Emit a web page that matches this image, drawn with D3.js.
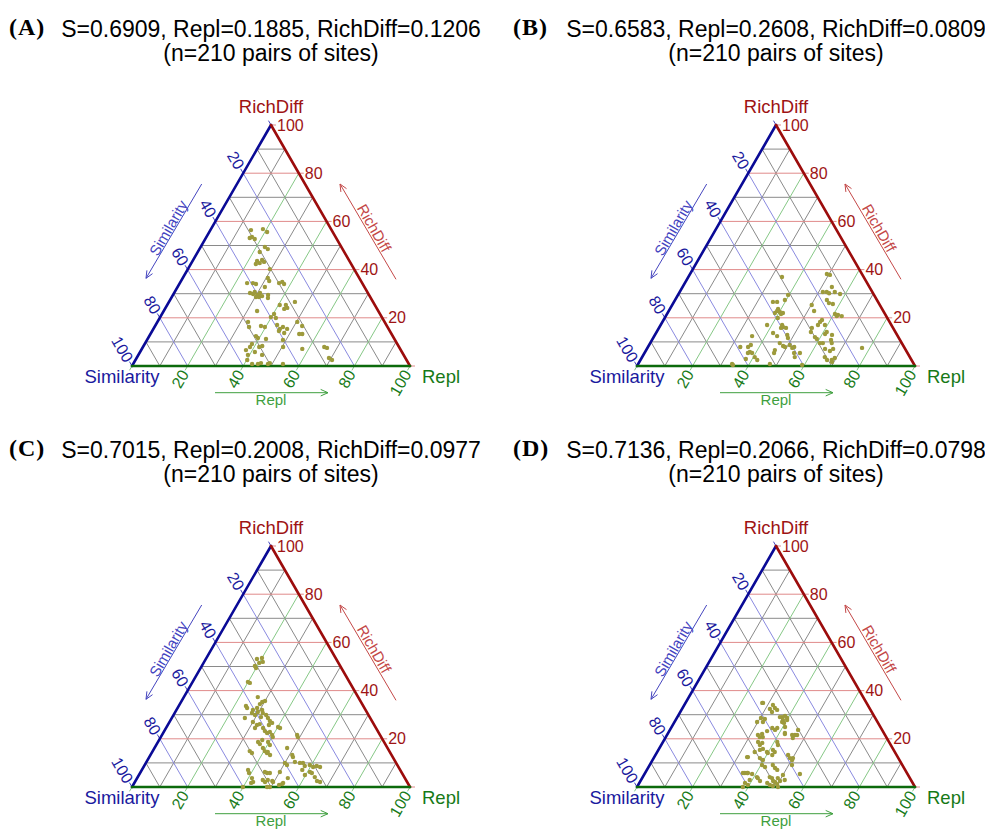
<!DOCTYPE html>
<html>
<head>
<meta charset="utf-8">
<script src="https://cdn.jsdelivr.net/npm/d3@7"></script>
<style>
  body { margin: 0; background: #fff; }
  svg { display: block; }
</style>
</head>
<body>
<svg id="chart" width="985" height="829"></svg>
<script>
// ---- Panel summaries -------------------------------------------------------
const panelLetters   = ["(A)", "(B)", "(C)", "(D)"];
const meanSimilarity = [0.6909, 0.6583, 0.7015, 0.7136];
const meanRepl       = [0.1885, 0.2608, 0.2008, 0.2066];
const meanRichDiff   = [0.1206, 0.0809, 0.0977, 0.0798];
const pairCounts     = [210, 210, 210, 210];
const tickValues     = [20, 40, 60, 80, 100];
const gridSteps      = [10, 20, 30, 40, 50, 60, 70, 80, 90];

// ---- Site pairs: Repl (%) and RichDiff (%); Similarity = 100 - Repl - RichDiff
const replA = [14.6,18.7,20.8,16.4,17.8,15.8,23.1,24.6,22.3,23.2,24.6,24.8,23.4,25.9,29.5,30.6,31.7,24.2,26.3,27.6,
  31.4,35.7,36.6,37.7,28.8,30.3,31.4,28.6,30.3,30.9,32.3,27.3,34.2,34.8,45.3,40.5,42.7,43.8,42.9,33.6,
  40.3,39.8,41.8,32.6,34.0,38.1,39.7,43.7,45.5,46.2,48.1,45.6,50.3,52.9,47.9,38.4,39.5,42.6,42.7,41.8,
  53.5,54.6,38.6,38.5,50.4,57.7,65.2,66.4,41.3,39.4,40.2,44.5,69.2,70.7,42.8,44.9,45.8,48.5,49.0,53.9,
  48.9,37.7];
const richA = [56.4,56.8,55.6,53.5,52.7,53.1,49.4,48.5,47.3,43.6,42.7,44.0,42.3,43.2,40.2,36.5,35.3,34.4,34.4,34.0,
  32.8,34.4,34.9,34.0,30.7,29.5,28.6,29.9,28.6,30.3,29.0,30.3,29.5,28.2,26.6,25.3,25.3,24.1,23.7,22.8,
  21.6,20.3,19.9,18.3,16.2,16.6,16.2,17.0,15.4,16.2,15.4,14.5,18.3,16.6,13.7,12.4,11.6,11.2,8.3,7.9,
  13.3,13.3,9.1,7.9,7.9,7.1,7.9,7.5,5.8,4.6,2.5,4.6,3.3,2.5,0.8,0.8,1.2,0.8,1.2,0.8,
  10.8,6.6];

const replB = [33.7,49.2,50.5,53.7,51.5,52.9,54.0,55.8,58.1,39.6,39.5,35.6,37.1,54.6,56.0,57.6,50.2,38.9,40.2,39.0,
  41.5,41.0,38.6,52.3,60.4,61.7,63.3,61.5,40.7,57.0,56.7,56.6,38.3,43.7,44.4,43.9,45.7,55.0,55.5,59.1,
  61.2,61.0,42.1,44.2,47.6,48.5,35.2,58.0,59.1,63.7,64.4,65.3,61.0,62.1,46.6,48.4,49.3,50.6,52.1,52.6,
  33.2,36.0,36.6,37.7,37.2,38.7,46.3,46.6,53.8,55.9,64.1,66.3,67.0,77.2,40.5,42.0,37.7,54.9,65.7,67.1,
  69.5,69.3,68.8,33.8,34.3,47.4,59.2];
const richB = [36.9,38.2,37.8,32.8,30.7,30.7,30.2,30.7,29.9,29.5,27.4,26.6,26.6,27.4,26.1,25.7,25.3,23.7,22.4,22.8,
  22.0,21.6,22.0,22.8,21.6,21.2,20.7,20.7,19.9,19.1,18.3,17.0,17.0,17.0,16.2,15.8,15.8,15.8,14.1,17.0,
  14.1,13.3,13.7,12.4,12.9,11.6,12.4,12.0,11.2,12.9,10.8,9.5,9.5,9.5,9.5,8.3,7.9,8.7,7.5,7.9,
  7.9,7.9,8.7,5.8,5.4,5.4,6.6,5.4,5.4,5.4,7.1,6.2,7.1,7.5,3.7,2.5,2.9,3.7,3.7,2.5,
  3.3,1.7,2.5,0.8,0.4,0.8,0.4];

const replC = [18.4,20.0,21.1,20.0,19.1,19.9,19.9,20.8,26.6,29.2,28.8,30.0,24.2,25.0,27.5,27.8,28.6,29.7,29.3,30.8,
  31.7,33.3,31.9,26.3,34.6,35.9,37.1,36.4,30.0,32.1,32.0,32.9,34.9,36.2,37.4,38.2,39.6,40.1,41.0,40.3,
  36.0,37.1,37.1,48.6,49.3,39.6,40.9,39.0,40.3,41.5,41.6,43.0,34.9,36.1,51.0,51.7,47.7,50.0,51.2,53.4,
  56.5,57.8,59.4,61.0,62.1,38.2,39.2,44.7,45.7,46.7,50.1,57.7,59.7,60.9,61.8,45.6,46.8,47.4,49.2,49.7,
  41.3,42.5,42.0,63.7,65.3,66.6,52.5,53.4,54.2,49.6,48.6,39.9,63.5,55.4,53.5];
const richC = [53.1,53.5,51.9,51.5,50.2,49.4,43.6,43.2,37.3,35.3,34.4,35.7,33.6,32.8,32.0,30.7,32.8,31.1,29.9,32.0,
  30.7,29.9,29.0,28.6,28.6,27.4,26.6,25.7,27.0,25.7,24.5,26.1,24.5,23.2,22.4,22.8,21.6,24.9,24.5,20.7,
  18.7,19.5,17.8,21.6,20.7,18.7,17.4,16.2,14.9,14.1,14.5,13.3,14.9,14.1,13.3,12.4,16.2,10.0,9.1,10.4,
  10.0,8.7,9.1,8.3,8.7,7.1,5.8,6.2,5.8,5.8,6.2,7.1,5.0,6.2,5.8,2.9,2.1,2.9,2.5,2.1,
  3.7,2.1,1.7,4.1,2.5,2.1,0.8,1.2,3.7,0.0,0.0,0.0,8.3,10.0,1.7];

const replD = [27.6,31.6,33.2,34.4,33.0,30.3,31.9,31.8,37.7,38.5,39.7,38.6,38.7,39.6,29.7,36.4,38.2,35.2,46.1,32.7,
  33.8,34.9,34.0,42.2,46.0,45.9,34.2,35.9,35.5,41.1,42.0,33.7,35.1,36.5,37.4,39.5,40.0,42.0,41.2,42.3,
  47.7,49.0,50.2,38.2,39.7,40.4,41.9,44.3,45.7,46.9,55.9,35.9,37.0,38.7,41.1,41.6,43.0,45.7,46.7,47.7,
  48.6,48.8,50.2,50.0,51.7,38.0,39.5,46.0,47.4,48.7,49.8,50.7,39.1,38.1,27.9,31.9,36.9,40.1,40.8,42.0,
  45.0,37.8,46.8,33.4,50.1,51.2,35.2,36.7];
const richD = [34.9,32.4,32.8,32.0,31.1,28.6,28.2,27.0,29.0,29.5,28.6,27.8,27.0,26.6,27.0,24.5,24.5,23.2,23.7,21.6,
  20.7,20.7,22.0,22.0,21.6,20.3,18.7,18.3,17.4,18.7,17.4,12.4,14.5,15.4,15.8,14.5,14.1,13.3,15.4,14.5,
  13.3,12.0,11.2,12.0,11.2,9.1,8.3,9.1,7.9,7.1,5.4,5.8,5.8,5.4,4.1,3.7,2.5,4.1,3.7,2.5,
  2.1,3.7,2.5,5.0,2.9,1.7,0.8,1.7,0.8,0.4,1.2,0.0,2.9,0.0,34.9,34.0,29.0,27.8,24.9,22.4,
  21.6,23.7,21.6,12.4,12.0,9.1,5.8,5.8];

// ---- Styling / layout ------------------------------------------------------
const SANS = "'Liberation Sans', Arial, Helvetica, sans-serif";
const SERIF = "'Liberation Serif', 'Times New Roman', serif";
const C = {
  simEdge: "#0a0a96", richEdge: "#9c0c0c", replEdge: "#0c6a0c",
  simText: "#1a1a9e", richText: "#9e1414", replText: "#177a17",
  simGrid: "#8a8ae0", richGrid: "#e08a8a", replGrid: "#86c886", grey: "#8a8a8a",
  simArrow: "#4545bf", richArrow: "#c44848", replArrow: "#3f9f3f",
  point: "#9d9a3c"
};
const TRI = { left: 132, right: 410, base: 366, top: 125 };

const panels = [
  { i: 0, repl: replA, rich: richA, dx: 0,   dy: 0,   letterX: 9 },
  { i: 1, repl: replB, rich: richB, dx: 505, dy: 0,   letterX: 8 },
  { i: 2, repl: replC, rich: richC, dx: 0,   dy: 421, letterX: 9 },
  { i: 3, repl: replD, rich: richD, dx: 505, dy: 421, letterX: 8 }
];

const svg = d3.select("#chart");
const fmt = d3.format(".4f");

function arrow(g, x1, y1, x2, y2, color) {
  g.append("line").attr("x1", x1).attr("y1", y1).attr("x2", x2).attr("y2", y2)
    .attr("stroke", color).attr("stroke-width", 1);
  const ang = Math.atan2(y2 - y1, x2 - x1), L = 8, w = 0.42;
  const p1 = [x2 - L * Math.cos(ang - w), y2 - L * Math.sin(ang - w)];
  const p2 = [x2 - L * Math.cos(ang + w), y2 - L * Math.sin(ang + w)];
  g.append("polyline").attr("points", [p1, [x2, y2], p2].map(p => p.join(",")).join(" "))
    .attr("fill", "none").attr("stroke", color).attr("stroke-width", 1);
}

panels.forEach(p => {
  const g = svg.append("g").attr("transform", `translate(${p.dx},${p.dy})`);
  // horizontal position driven by Repl + RichDiff/2, vertical by RichDiff
  const x = d3.scaleLinear().domain([0, 100]).range([TRI.left, TRI.right]);
  const y = d3.scaleLinear().domain([0, 100]).range([TRI.base, TRI.top]);
  const pos = (r, d) => [x(r + d / 2), y(d)];
  const cx = x(50);

  // titles
  g.append("text").attr("x", p.letterX).attr("y", 35)
    .style("font-family", SERIF).style("font-weight", "bold").style("font-size", "24px")
    .style("letter-spacing", "1px").text(panelLetters[p.i]);
  g.append("text").attr("x", cx).attr("y", 37).attr("text-anchor", "middle")
    .style("font-family", SANS).style("font-size", "23px")
    .text(`S=${fmt(meanSimilarity[p.i])}, Repl=${fmt(meanRepl[p.i])}, RichDiff=${fmt(meanRichDiff[p.i])}`);
  g.append("text").attr("x", cx).attr("y", 61).attr("text-anchor", "middle")
    .style("font-family", SANS).style("font-size", "23px")
    .text(`(n=${pairCounts[p.i]} pairs of sites)`);

  // grid
  const lines = [];
  gridSteps.forEach(v => {
    const major = v % 20 === 0;
    lines.push({ a: pos(0, v), b: pos(100 - v, v), c: major ? C.richGrid : C.grey, m: major });
    lines.push({ a: pos(v, 0), b: pos(0, v), c: major ? C.simGrid : C.grey, m: major });
    lines.push({ a: pos(v, 0), b: pos(v, 100 - v), c: major ? C.replGrid : C.grey, m: major });
  });
  lines.sort((a, b) => a.m - b.m);
  g.append("g").selectAll("line").data(lines).join("line")
    .attr("x1", d => d.a[0]).attr("y1", d => d.a[1])
    .attr("x2", d => d.b[0]).attr("y2", d => d.b[1])
    .attr("stroke", d => d.c).attr("stroke-width", 1);

  // tick marks
  const tk = [0].concat(tickValues), T = 5;
  const sx = -0.5, sy = -Math.sqrt(3) / 2;   // outward along Similarity lines
  const rx = -0.5, ry = Math.sqrt(3) / 2;    // outward along Repl lines
  const ticks = g.append("g");
  tk.forEach(v => {
    const pr = pos(100 - v, v);
    ticks.append("line").attr("x1", pr[0]).attr("y1", pr[1]).attr("x2", pr[0] + T).attr("y2", pr[1])
      .attr("stroke", C.richGrid);
    const ps = pos(0, 100 - v);
    ticks.append("line").attr("x1", ps[0]).attr("y1", ps[1]).attr("x2", ps[0] + T * sx).attr("y2", ps[1] + T * sy)
      .attr("stroke", C.simArrow);
    const pp = pos(v, 0);
    ticks.append("line").attr("x1", pp[0]).attr("y1", pp[1]).attr("x2", pp[0] + T * rx).attr("y2", pp[1] + T * ry)
      .attr("stroke", C.replGrid);
  });

  // edges
  const edge = (a, b, c) => g.append("line").attr("x1", a[0]).attr("y1", a[1]).attr("x2", b[0]).attr("y2", b[1])
    .attr("stroke", c).attr("stroke-width", 2.6).attr("stroke-linecap", "round");
  edge(pos(0, 0), pos(0, 100), C.simEdge);
  edge(pos(100, 0), pos(0, 100), C.richEdge);
  edge(pos(0, 0), pos(100, 0), C.replEdge);

  // points
  g.append("g").selectAll("circle").data(p.repl.map((r, k) => [r, p.rich[k]])).join("circle")
    .attr("cx", d => pos(d[0], d[1])[0]).attr("cy", d => pos(d[0], d[1])[1])
    .attr("r", 2.2).attr("fill", C.point);

  // tick labels
  const lab = g.append("g").style("font-family", SANS).style("font-size", "16px");
  tickValues.forEach(v => {
    const pr = pos(100 - v, v);
    lab.append("text").attr("x", pr[0] + 6).attr("y", pr[1]).attr("dy", "0.35em")
      .attr("fill", C.richText).text(v);
    const ps = pos(0, 100 - v), ds = 6;
    const qx = ps[0] + ds * sx, qy = ps[1] + ds * sy;
    lab.append("text").attr("transform", `translate(${qx},${qy}) rotate(60)`)
      .attr("text-anchor", "end").attr("dy", "0.35em").attr("fill", C.simText).text(v);
    const pp = pos(v, 0), dr = 6;
    const ux = pp[0] + dr * rx, uy = pp[1] + dr * ry;
    lab.append("text").attr("transform", `translate(${ux},${uy}) rotate(-60)`)
      .attr("text-anchor", "end").attr("dy", "0.35em").attr("fill", C.replText).text(v);
  });

  // vertex titles
  const vt = g.append("g").style("font-family", SANS).style("font-size", "18.5px");
  vt.append("text").attr("x", cx).attr("y", 113).attr("text-anchor", "middle").attr("fill", C.richText).text("RichDiff");
  vt.append("text").attr("x", TRI.left - 10).attr("y", 383).attr("text-anchor", "middle").attr("fill", C.simText).text("Similarity");
  vt.append("text").attr("x", TRI.right + 12).attr("y", 383).attr("fill", C.replText).text("Repl");

  // direction arrows with their labels
  const at = g.append("g").style("font-family", SANS).style("font-size", "15px");
  arrow(g, 201.7, 184, 146, 278.3, C.simArrow);
  at.append("text").attr("transform", "translate(168.5,228) rotate(-60)").attr("text-anchor", "middle")
    .attr("dy", "0.35em").attr("fill", C.simArrow).text("Similarity");
  arrow(g, 396, 279.3, 340, 184, C.richArrow);
  at.append("text").attr("transform", "translate(374,228) rotate(60)").attr("text-anchor", "middle")
    .attr("dy", "0.35em").attr("fill", C.richArrow).text("RichDiff");
  arrow(g, 215, 392.7, 328, 392.7, C.replArrow);
  at.append("text").attr("x", cx).attr("y", 405).attr("text-anchor", "middle")
    .attr("fill", C.replArrow).text("Repl");
});
</script>
</body>
</html>
